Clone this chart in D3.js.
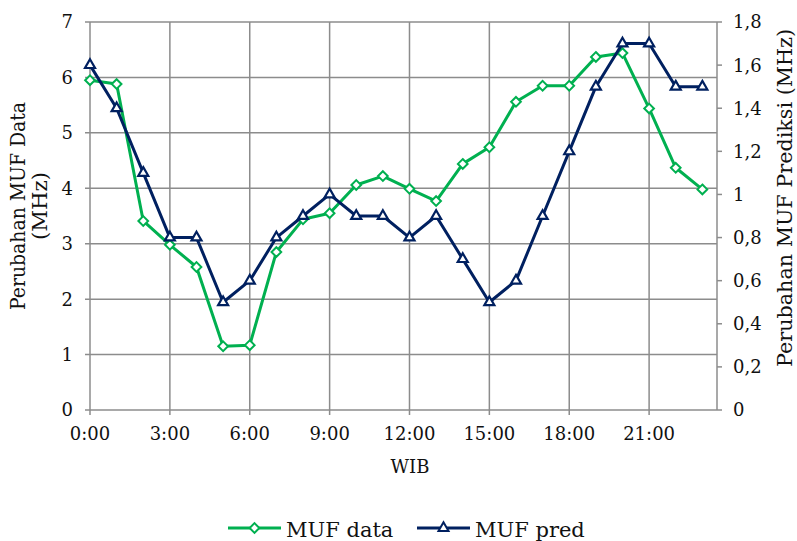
<!DOCTYPE html>
<html>
<head>
<meta charset="utf-8">
<script src="https://cdn.jsdelivr.net/npm/d3@7"></script>
<style>
  html, body { margin: 0; padding: 0; background: #fff; }
  svg { display: block; }
  text { font-family: "DejaVu Serif", "Liberation Serif", serif; fill: #111; }
</style>
</head>
<body>
<svg id="chart" width="797" height="541"></svg>
<script>
// Hour of day (WIB), 0..23
const hours = [0,1,2,3,4,5,6,7,8,9,10,11,12,13,14,15,16,17,18,19,20,21,22,23];
// Measured MUF change (MHz), left axis
const mufData = [5.95,5.88,3.41,2.98,2.58,1.15,1.17,2.85,3.44,3.55,4.06,4.22,3.99,3.77,4.44,4.74,5.56,5.85,5.85,6.37,6.44,5.44,4.37,3.98];
// Predicted MUF change (MHz), right axis
const mufPred = [1.6,1.4,1.1,0.8,0.8,0.5,0.6,0.8,0.9,1.0,0.9,0.9,0.8,0.9,0.7,0.5,0.6,0.9,1.2,1.5,1.7,1.7,1.5,1.5];
// Tick labels
const xTickHours = [0,3,6,9,12,15,18,21];
const xTickLabels = ["0:00","3:00","6:00","9:00","12:00","15:00","18:00","21:00"];
const leftTicks = [0,1,2,3,4,5,6,7];
const rightTicks = [0,0.2,0.4,0.6,0.8,1.0,1.2,1.4,1.6,1.8];
const seriesNames = ["MUF data","MUF pred"];

const GREEN = "#00b050", NAVY = "#002060", GRID = "#8c8c8c";

const svg = d3.select("#chart");
const plot = {left: 90, right: 717, top: 22, bottom: 410};

const x = d3.scaleLinear().domain([0, 23.55]).range([plot.left, plot.right]);
const yL = d3.scaleLinear().domain([0, 7]).range([plot.bottom, plot.top]);
const yR = d3.scaleLinear().domain([0, 1.8]).range([plot.bottom, plot.top]);

const g = svg.append("g");

// Horizontal gridlines (left axis)
g.selectAll(".hgrid").data(leftTicks).join("line")
  .attr("x1", plot.left - 5).attr("x2", plot.right)
  .attr("y1", d => yL(d)).attr("y2", d => yL(d))
  .attr("stroke", GRID).attr("stroke-width", 1.5);

// Vertical gridlines (every 3 hours)
g.selectAll(".vgrid").data(xTickHours).join("line")
  .attr("x1", d => x(d)).attr("x2", d => x(d))
  .attr("y1", plot.top).attr("y2", plot.bottom + 5)
  .attr("stroke", GRID).attr("stroke-width", 1.5);

// Right border / secondary axis line
g.append("line")
  .attr("x1", plot.right).attr("x2", plot.right)
  .attr("y1", plot.top).attr("y2", plot.bottom)
  .attr("stroke", GRID).attr("stroke-width", 1.5);

// Secondary axis tick marks
g.selectAll(".rtick").data(rightTicks).join("line")
  .attr("x1", plot.right).attr("x2", plot.right + 5)
  .attr("y1", d => yR(d)).attr("y2", d => yR(d))
  .attr("stroke", GRID).attr("stroke-width", 1.5);

// Left tick labels
g.selectAll(".ltl").data(leftTicks).join("text")
  .attr("x", 73).attr("y", d => yL(d)).attr("dy", "0.36em")
  .attr("text-anchor", "end").attr("font-size", 18)
  .text(d => d);

// Right tick labels (comma decimal)
g.selectAll(".rtl").data(rightTicks).join("text")
  .attr("x", 733).attr("y", d => yR(d)).attr("dy", "0.36em")
  .attr("text-anchor", "start").attr("font-size", 18)
  .text(d => d3.format(".1~f")(d).replace(".", ","));

// Bottom tick labels
g.selectAll(".xtl").data(xTickHours).join("text")
  .attr("x", d => x(d)).attr("y", 440)
  .attr("text-anchor", "middle").attr("font-size", 18)
  .text((d, i) => xTickLabels[i]);

// Axis titles
g.append("text").attr("x", 410).attr("y", 473)
  .attr("text-anchor", "middle").attr("font-size", 18).text("WIB");

g.append("text").attr("transform", "translate(25,206) rotate(-90)")
  .attr("text-anchor", "middle").attr("font-size", 20)
  .attr("textLength", 208).attr("lengthAdjust", "spacingAndGlyphs")
  .text("Perubahan MUF Data");
g.append("text").attr("transform", "translate(47,206) rotate(-90)")
  .attr("text-anchor", "middle").attr("font-size", 20)
  .attr("textLength", 68).attr("lengthAdjust", "spacingAndGlyphs")
  .text("(MHz)");

g.append("text").attr("transform", "translate(792,198) rotate(-90)")
  .attr("text-anchor", "middle").attr("font-size", 20)
  .attr("textLength", 338).attr("lengthAdjust", "spacingAndGlyphs")
  .text("Perubahan MUF Prediksi (MHz)");

// Series
const diamond = d3.symbol().type(d3.symbolDiamond2).size(60);
const triangle = d3.symbol().type(d3.symbolTriangle2).size(72);

const lineData = d3.line().x((d, i) => x(hours[i])).y(d => yL(d));
const linePred = d3.line().x((d, i) => x(hours[i])).y(d => yR(d));

g.append("path").datum(mufData).attr("d", lineData)
  .attr("fill", "none").attr("stroke", GREEN).attr("stroke-width", 3)
  .attr("stroke-linejoin", "round");
g.selectAll(".dmark").data(mufData).join("path")
  .attr("d", diamond)
  .attr("transform", (d, i) => `translate(${x(hours[i])},${yL(d)})`)
  .attr("fill", "#fff").attr("stroke", GREEN).attr("stroke-width", 2);

g.append("path").datum(mufPred).attr("d", linePred)
  .attr("fill", "none").attr("stroke", NAVY).attr("stroke-width", 3)
  .attr("stroke-linejoin", "round");
g.selectAll(".tmark").data(mufPred).join("path")
  .attr("d", triangle)
  .attr("transform", (d, i) => `translate(${x(hours[i])},${yR(d)})`)
  .attr("fill", "#fff").attr("stroke", NAVY).attr("stroke-width", 2.2);

// Legend
const legendItems = [
  {name: seriesNames[0], color: GREEN, sym: diamond, x0: 228},
  {name: seriesNames[1], color: NAVY, sym: triangle, x0: 417}
];
const lg = svg.append("g");
legendItems.forEach(it => {
  lg.append("line").attr("x1", it.x0).attr("x2", it.x0 + 53)
    .attr("y1", 528).attr("y2", 528)
    .attr("stroke", it.color).attr("stroke-width", 3);
  lg.append("path").attr("d", it.sym)
    .attr("transform", `translate(${it.x0 + 26.5},528)`)
    .attr("fill", "#fff").attr("stroke", it.color).attr("stroke-width", 2);
  lg.append("text").attr("x", it.x0 + 58).attr("y", 537)
    .attr("font-size", 21).text(it.name);
});
</script>
</body>
</html>
